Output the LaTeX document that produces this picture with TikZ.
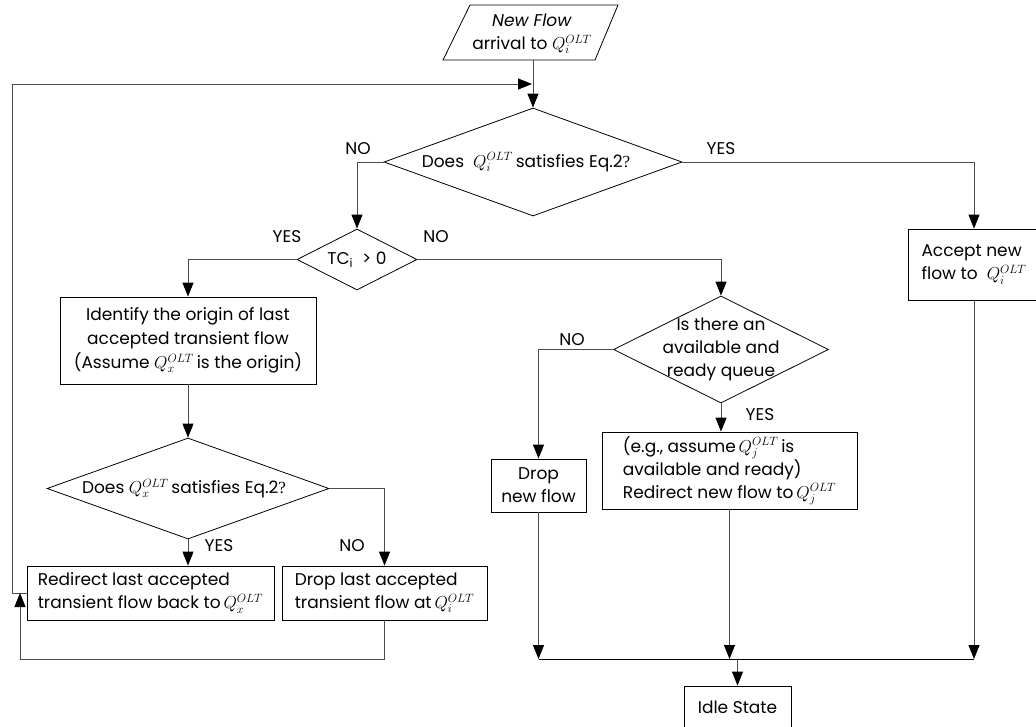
\documentclass[tikz,border=0pt]{standalone}
\usepackage{fontspec}
\setmainfont{Poppins}
\newfontfamily\tms{Liberation Serif}
\usetikzlibrary{arrows.meta,shapes.geometric}
\newcommand{\QQ}[1]{$Q_{#1}^{OLT}$}
\begin{document}
\begin{tikzpicture}[x=1pt,y=-1pt,
  every node/.style={font=\fontsize{17}{23}\selectfont, inner sep=0pt},
  box/.style={draw=black, line width=0.8pt, rectangle, align=center},
  dia/.style={draw=black, line width=0.8pt, diamond},
  lbl/.style={font=\fontsize{17}{20}\selectfont},
  conn/.style={draw=black!70, line width=0.9pt},
  arr/.style={conn, -{Triangle[length=14pt,width=11pt,color=black]}}]
\useasboundingbox (0,0) rectangle (1036,726);

% start parallelogram
\draw[line width=0.8pt] (443,60) -- (470,5) -- (618,5) -- (595,60) -- cycle;
\node[align=center] (start) at (532,34) {\textit{New Flow}\\arrival to \QQ{i}};
\coordinate (pb) at (533,60);

% decisions
\node[dia, minimum width=298, minimum height=108] (d1) at (533,162) {};
\node (d1t) at (526,162) {Does\ \ \QQ{i}\,satisfies Eq.2{\tms ?}};
\node[dia, minimum width=120, minimum height=61] (tc) at (357,259.5) {};
\node (tct) at (357,259.5) {TC\textsubscript{i}\ \ > 0};
\node[dia, minimum width=215, minimum height=107] (d2) at (721,349.5) {};
\node[align=center] (d2t) at (721,349) {Is there an\\available and\\ready queue};
\node[dia, minimum width=282, minimum height=101] (d3) at (188,488.5) {};
\node (d3t) at (184,488.5) {Does \QQ{x}\,satisfies Eq.2{\tms ?}};

% boxes
\node[box, minimum width=256, minimum height=87, font=\fontsize{17}{24}\selectfont] (id) at (188,340.5)
  {Identify the origin of last\\accepted transient flow\\(Assume \QQ{x}\,is the origin)};
\node[box, align=left, minimum width=132, minimum height=71] (acc) at (974,264.5)
  {Accept new\\flow to\ \ \QQ{i}};
\node[box, minimum width=95, minimum height=53] (dn) at (538.5,485.5)
  {Drop\\new flow};
\node[box, align=left, minimum width=255, minimum height=77] (eg) at (729.5,470.5)
  {(e.g., assume\,\QQ{j}\,is\\available and ready)\\Redirect new flow to\,\QQ{j}};
\node[box, align=left, minimum width=247, minimum height=54] (rd) at (150.5,593)
  {Redirect last accepted\\transient flow back to\,\QQ{x}};
\node[box, align=left, minimum width=205, minimum height=54] (dl) at (384.5,593)
  {Drop last accepted\\transient flow at\,\QQ{i}};
\node[box, minimum width=107, minimum height=42] (idle) at (737.5,707)
  {Idle State};

% labels
\node[lbl] (n1) at (358,149) {NO};
\node[lbl] (y1) at (721,149) {YES};
\node[lbl] (y2) at (287,237) {YES};
\node[lbl] (n2) at (436,237) {NO};
\node[lbl] (n3) at (572,340) {NO};
\node[lbl] (y3) at (760,415) {YES};
\node[lbl] (y4) at (219,546) {YES};
\node[lbl] (n4) at (352,546) {NO};

% loop coordinates
\coordinate (L1) at (12,593);
\coordinate (L2) at (12,84);
\coordinate (L3) at (532,84);
\coordinate (B1) at (384.5,659);
\coordinate (B2) at (20,659);
\coordinate (B3) at (20,593);
\coordinate (mL) at (538.5,659);
\coordinate (mR) at (974,659);
\coordinate (mI) at (737.5,659);

% connectors
\draw[arr] (pb) -- (d1.north);
\draw[arr] (rd.west) -- (L1) -- (L2) -- (L3);
\draw[arr] (dl.south) -- (B1) -- (B2) -- (B3);
\draw[arr] (d1.west) -| (tc.north);
\draw[arr] (d1.east) -| (acc.north);
\draw[arr] (tc.west) -| (id.north);
\draw[arr] (tc.east) -| (d2.north);
\draw[arr] (d2.west) -| (dn.north);
\draw[arr] (d2.south) -- (d2.south |- eg.north);
\draw[arr] (id.south) -- (d3.north);
\draw[arr] (d3.south) -- (d3.south |- rd.north);
\draw[arr] (d3.east) -| (dl.north);
\draw[arr] (dn.south) -- (mL);
\draw[arr] (eg.south) -- (eg.south |- mL);
\draw[arr] (acc.south) -- (mR);
\draw[conn, draw=black] (mL) -- (mR);
\draw[arr] (mI) -- (idle.north);
\end{tikzpicture}
\end{document}
